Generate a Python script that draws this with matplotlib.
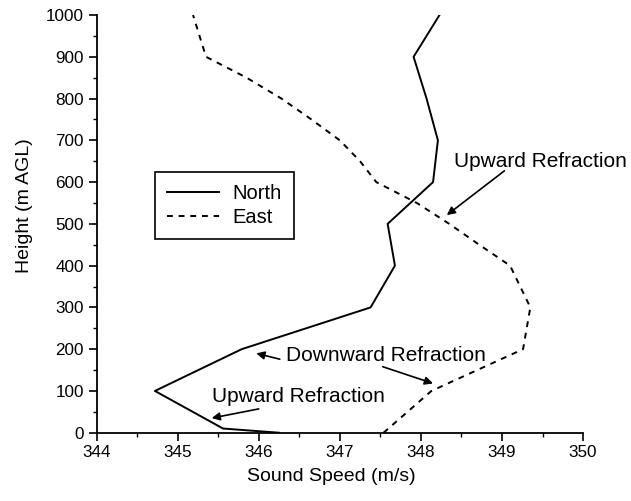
import numpy as np
import matplotlib
matplotlib.use("Agg")
import matplotlib.pyplot as plt
from matplotlib.ticker import MultipleLocator

plt.rcParams['font.family'] = ['Liberation Sans', 'DejaVu Sans']

# sound speed profiles (m/s) against height (m AGL)
north_height = [0, 10, 100, 200, 300, 400, 500, 600, 700, 800, 900, 1000]
north_speed = [346.25, 345.56, 344.72, 345.79, 347.38, 347.68, 347.59, 348.15, 348.21, 348.07, 347.91, 348.23]

east_height = [0, 100, 200, 300, 400, 450, 500, 550, 600, 650, 700, 750, 800, 850, 900, 1000]
east_speed = [347.54, 348.13, 349.26, 349.35, 349.1, 348.72, 348.35, 347.95, 347.45, 347.25, 347.0, 346.65, 346.28, 345.85, 345.35, 345.19]

fig = plt.figure(figsize=(6.31, 5.01), dpi=100)
ax = fig.add_axes([0.153, 0.1363, 0.771, 0.8337])

ax.plot(north_speed, north_height, color='black', lw=1.4, label='North')
ax.plot(east_speed, east_height, color='black', lw=1.4, ls=(0, (3, 3)), label='East')

ax.set_xlim(344, 350)
ax.set_ylim(0, 1000)
ax.xaxis.set_major_locator(MultipleLocator(1))
ax.xaxis.set_minor_locator(MultipleLocator(0.5))
ax.yaxis.set_major_locator(MultipleLocator(100))
ax.yaxis.set_minor_locator(MultipleLocator(50))
ax.tick_params(which='major', direction='out', length=6, width=1.2, labelsize=12.3, pad=3)
ax.tick_params(which='minor', direction='out', length=3, width=1)
for s in ['top', 'right']:
    ax.spines[s].set_visible(False)
for s in ['left', 'bottom']:
    ax.spines[s].set_linewidth(1.3)

ax.set_xlabel('Sound Speed (m/s)', fontsize=14)
ax.set_ylabel('Height (m AGL)', fontsize=14)
ax.xaxis.set_label_coords(0.483, -0.085)
ax.yaxis.set_label_coords(-0.13, 0.543)

leg = ax.legend(loc='upper left', bbox_to_anchor=(0.12, 0.624), fontsize=14.5,
                frameon=True, fancybox=False, edgecolor='black', framealpha=1,
                handlelength=2.6, borderpad=0.6, labelspacing=0.25, handletextpad=0.65,
                borderaxespad=0)
leg.get_frame().set_linewidth(1.2)

arrow = dict(arrowstyle='-|>', color='black', lw=1.2, mutation_scale=12, shrinkA=0, shrinkB=0)

# upper east layer
ax.text(348.41, 650, 'Upward Refraction', fontsize=15, ha='left', va='center')
ax.annotate('', xy=(348.32, 521), xytext=(349.03, 627), arrowprops=arrow)

# downward refraction, pointing at both profiles
ax.text(346.34, 184, 'Downward Refraction', fontsize=15, ha='left', va='center')
ax.annotate('', xy=(345.97, 190), xytext=(346.26, 176), arrowprops=arrow)
ax.annotate('', xy=(348.15, 118), xytext=(347.53, 158), arrowprops=arrow)

# lower north layer
ax.text(345.42, 86, 'Upward Refraction', fontsize=15, ha='left', va='center')
ax.annotate('', xy=(345.42, 35), xytext=(346.0, 57), arrowprops=arrow)

fig.savefig('out.png', dpi=100)
